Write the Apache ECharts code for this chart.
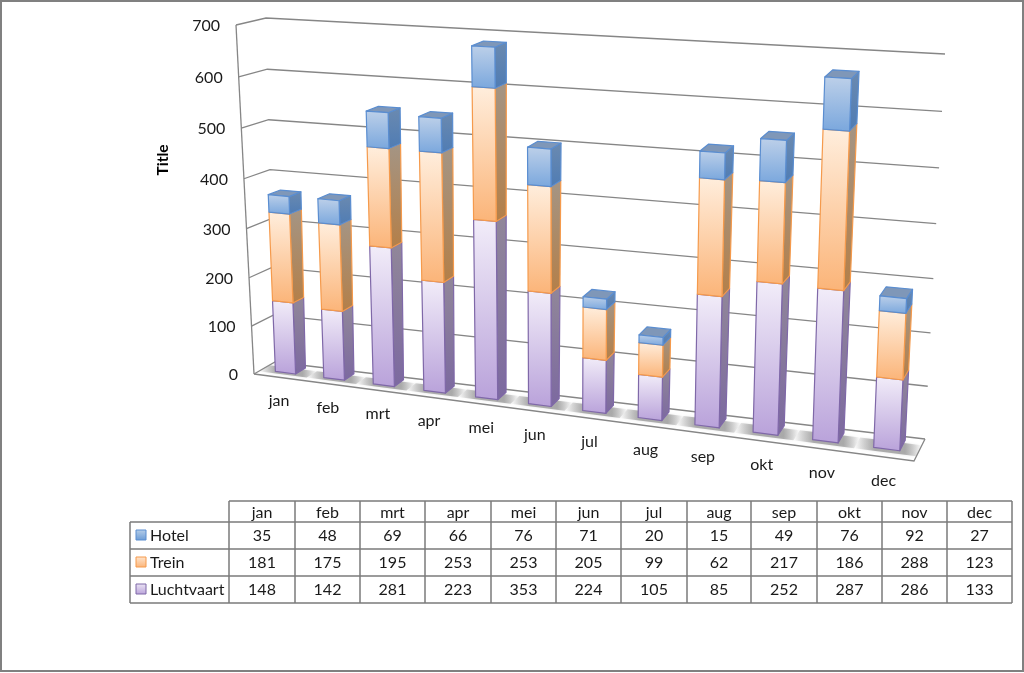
<!DOCTYPE html>
<html>
<head>
<meta charset="utf-8">
<style>html,body{margin:0;padding:0;background:#fff}#c{width:1024px;height:673px}</style>
<script src="https://cdn.jsdelivr.net/npm/echarts@6/dist/echarts.min.js"></script>
</head>
<body>
<div id="c"></div>
<script>
// ---- data ----
const categories = ['jan','feb','mrt','apr','mei','jun','jul','aug','sep','okt','nov','dec'];
const hotel      = [35,48,69,66,76,71,20,15,49,76,92,27];
const trein      = [181,175,195,253,253,205,99,62,217,186,288,123];
const luchtvaart = [148,142,281,223,353,224,105,85,252,287,286,133];
const yTicks     = [0,100,200,300,400,500,600,700];
const axisTitle  = 'Title';

// ---- perspective box: value fractions come from the axes, this only warps them ----
const W = 1024, H = 673;
const K_U = 1.15, K_V = 1.05;
const C = {
  fb:[254,374], ft:[236,25], fB:[914,461], fT:[931,70],   // front: left bottom/top, right bottom/top
  bb:[275,362], bt:[266,18], bB:[925,439], bT:[945,54]    // back
};
const lerp = (a,b,t)=>[a[0]+(b[0]-a[0])*t, a[1]+(b[1]-a[1])*t];
function project(uFrac, vFrac, w){
  const s = uFrac/(uFrac+K_U*(1-uFrac));
  const t = vFrac/(vFrac+K_V*(1-vFrac));
  const fr = lerp(lerp(C.fb,C.fB,s), lerp(C.ft,C.fT,s), t);
  const bk = lerp(lerp(C.bb,C.bB,s), lerp(C.bt,C.bT,s), t);
  return lerp(fr,bk,w);
}
const toFrac = p => [p[0]/W, (H-p[1])/H];
const W0 = 0.36, W1 = 0.84, HALF = 0.21;

const FONT = '"Lato","Carlito","Noto Sans",sans-serif';
const GRID = '#868686', TEXT = '#1a1a1a';

const styles = {
  Luchtvaart:{edge:'#7f68a8', front:['#f2edf9','#b9a2da'], side:['#918799','#7c69a0'], key:['#ece6f5','#b9a2da']},
  Trein:{edge:'#f59a4c', front:['#ffeedd','#fbb478'], side:['#a49585','#b47f48'], key:['#ffe6cf','#fbb478']},
  Hotel:{edge:'#5a8dd0', front:['#bdd0e9','#7aa7dd'], side:['#6b8ab0','#4f7cb4'], top:'#7f97b8', key:['#b8cfe9','#6a9bd6']}
};
const vGrad = c => ({type:'linear',x:0,y:0,x2:0,y2:1,colorStops:[{offset:0,color:c[0]},{offset:1,color:c[1]}]});

function barRender(name, isTop){
  const st = styles[name];
  return function(params, api){
    const i = api.value(0), v1 = api.value(1), v0 = api.value(2);
    const a = toFrac(api.coord([i,v0])), b = toFrac(api.coord([i,v1]));
    const band = api.size([1,0])[0]/W;
    const uL = a[0]-band*HALF, uR = a[0]+band*HALF;
    const P = project;
    const kids = [];
    const poly = (pts,fill)=>kids.push({type:'polygon',shape:{points:pts},style:{fill:fill,stroke:st.edge,lineWidth:1.2,lineJoin:'round'}});
    poly([P(uR,a[1],W0),P(uR,a[1],W1),P(uR,b[1],W1),P(uR,b[1],W0)], vGrad(st.side));
    if(isTop) poly([P(uL,b[1],W0),P(uR,b[1],W0),P(uR,b[1],W1),P(uL,b[1],W1)], st.top);
    poly([P(uL,a[1],W0),P(uR,a[1],W0),P(uR,b[1],W0),P(uL,b[1],W0)], vGrad(st.front));
    return {type:'group',children:kids};
  };
}

function stackData(vals, bases){ return vals.map((v,i)=>[i, v+bases[i], bases[i]]); }
const zero = categories.map(()=>0);
const b1 = luchtvaart.map(v=>v);
const b2 = luchtvaart.map((v,i)=>v+trein[i]);

// walls and floor, one polyline per tick through the value axis
function wallRender(params, api){
  const val = api.value(1);
  const v = toFrac(api.coord([0,val]))[1];
  const kids = [{type:'polyline',shape:{points:[project(0,v,0),project(0,v,1),project(1,v,1)]},
    style:{stroke:GRID,lineWidth:1.3,fill:null}}];
  const anchor = project(0,v,0);
  kids.push({type:'text',style:{text:String(val),x:anchor[0]-16,y:anchor[1]+1,align:'right',verticalAlign:'middle',
    font:'16px '+FONT,fill:TEXT}});
  if(val===0){
    kids.push({type:'polyline',shape:{points:[project(1,0,1),project(1,0,0),project(0,0,0)]},style:{stroke:GRID,lineWidth:1.3,fill:null}});
    kids.push({type:'line',shape:{x1:project(0,0,0)[0],y1:project(0,0,0)[1],x2:project(0,1,0)[0],y2:project(0,1,0)[1]},style:{stroke:GRID,lineWidth:1.3}});
  }
  return {type:'group',children:kids};
}
function shadowRender(params, api){
  const i = api.value(0);
  const a = toFrac(api.coord([i,0]));
  const band = api.size([1,0])[0]/W;
  const pts = [project(a[0]-band*0.5,0,0.22),project(a[0]+band*0.5,0,0.22),project(a[0]+band*0.5,0,0.72),project(a[0]-band*0.5,0,0.72)];
  return {type:'polygon',shape:{points:pts},style:{
    fill:{type:'linear',x:0,y:0,x2:1,y2:0,colorStops:[
      {offset:0,color:'rgba(150,150,150,0)'},{offset:0.3,color:'rgba(150,150,150,0.75)'},
      {offset:0.75,color:'rgba(150,150,150,0.75)'},{offset:1,color:'rgba(150,150,150,0)'}]},
    shadowBlur:3,shadowColor:'rgba(160,160,160,0.4)'}};
}
function catLabelRender(params, api){
  const i = api.value(0);
  const a = toFrac(api.coord([i,0]));
  const p = project(a[0],0,0);
  return {type:'text',style:{text:categories[i],x:p[0]+1,y:p[1]+24,align:'center',verticalAlign:'middle',font:'16px '+FONT,fill:TEXT}};
}

// ---- data table ----
const tableX = [229,295,360,425,491,556,621,687,751,817,882,947,1012];
const tableY = [501,522,549,576,603];
const tableLeft = 130;
const tableRows = [['Hotel',hotel],['Trein',trein],['Luchtvaart',luchtvaart]];
const g = [];
const tLine = (x1,y1,x2,y2)=>g.push({type:'line',shape:{x1,y1,x2,y2},style:{stroke:'#7a7a7a',lineWidth:1.5},z:5});
tableY.forEach((y,ri)=>tLine(ri===0?tableX[0]:tableLeft,y,tableX[12],y));
tableX.forEach(x=>tLine(x,tableY[0],x,tableY[4]));
tLine(tableLeft,tableY[1],tableLeft,tableY[4]);
const tText=(text,x,y,align)=>g.push({type:'text',z:6,style:{text,x,y,align,verticalAlign:'middle',font:'16px '+FONT,fill:TEXT}});
categories.forEach((c,i)=>tText(c,(tableX[i]+tableX[i+1])/2,(tableY[0]+tableY[1])/2+1,'center'));
tableRows.forEach((r,ri)=>{
  const cy=(tableY[ri+1]+tableY[ri+2])/2;
  const st=styles[r[0]];
  g.push({type:'rect',z:6,shape:{x:136,y:cy-5.5,width:10,height:10},style:{fill:vGrad(st.key),stroke:st.edge,lineWidth:1}});
  tText(r[0],150,cy,'left');
  r[1].forEach((v,i)=>tText(String(v),(tableX[i]+tableX[i+1])/2,cy,'center'));
});
// outer frame and axis title
g.push({type:'rect',z:1,shape:{x:1,y:1,width:1022,height:670},style:{fill:'#fff',stroke:'#808080',lineWidth:2}});
g.push({type:'text',z:6,rotation:Math.PI/2,x:163,y:160,style:{text:axisTitle,x:0,y:0,align:'center',verticalAlign:'middle',font:'bold 15.5px '+FONT,fill:'#000'}});

const chart = echarts.init(document.getElementById('c'));
chart.setOption({
  animation:false,
  backgroundColor:'#fff',
  grid:{left:0,top:0,width:W,height:H,containLabel:false},
  xAxis:{type:'category',data:categories,show:false},
  yAxis:{type:'value',min:0,max:700,interval:100,show:false},
  graphic:{elements:g},
  series:[
    {type:'custom',name:'walls',z:2,silent:true,clip:false,data:yTicks.map(v=>[0,v]),encode:{x:0,y:1},renderItem:wallRender},
    {type:'custom',name:'shadow',z:3,silent:true,clip:false,data:categories.map((c,i)=>[i,0]),encode:{x:0,y:1},renderItem:shadowRender},
    {type:'custom',name:'labels',z:3,silent:true,clip:false,data:categories.map((c,i)=>[i,0]),encode:{x:0,y:1},renderItem:catLabelRender},
    {type:'custom',name:'Luchtvaart',z:4,silent:true,clip:false,data:stackData(luchtvaart,zero),encode:{x:0,y:1},renderItem:barRender('Luchtvaart',false)},
    {type:'custom',name:'Trein',z:4,silent:true,clip:false,data:stackData(trein,b1),encode:{x:0,y:1},renderItem:barRender('Trein',false)},
    {type:'custom',name:'Hotel',z:4,silent:true,clip:false,data:stackData(hotel,b2),encode:{x:0,y:1},renderItem:barRender('Hotel',true)}
  ]
});
</script>
</body>
</html>
